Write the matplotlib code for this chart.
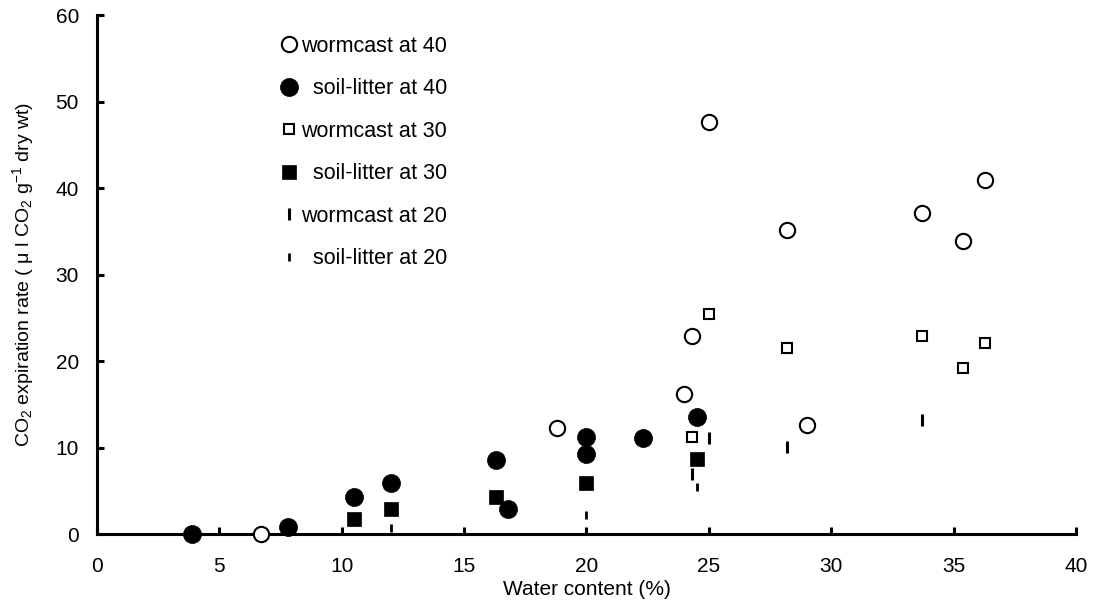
import matplotlib
matplotlib.use("Agg")
import matplotlib.pyplot as plt

plt.rcParams['font.family'] = ['Liberation Sans', 'DejaVu Sans']
plt.rcParams['mathtext.fontset'] = 'custom'
plt.rcParams['mathtext.rm'] = 'Liberation Sans'
plt.rcParams['mathtext.it'] = 'Liberation Sans'
plt.rcParams['mathtext.default'] = 'regular'

# ---- data ----
wc40_x = [6.7, 18.8, 24.0, 24.3, 25.0, 28.2, 29.0, 33.7, 35.4, 36.3]
wc40_y = [0.0, 12.3, 16.2, 23.0, 47.7, 35.2, 12.6, 37.2, 33.9, 41.0]

sl40_x = [3.9, 7.8, 10.5, 12.0, 16.3, 16.8, 20.0, 20.0, 22.3, 24.5]
sl40_y = [0.0, 0.9, 4.3, 6.0, 8.6, 3.0, 11.3, 9.3, 11.1, 13.6]

wc30_x = [24.3, 25.0, 28.2, 33.7, 35.4, 36.3]
wc30_y = [11.3, 25.5, 21.6, 22.9, 19.2, 22.1]

sl30_x = [10.5, 12.0, 16.3, 20.0, 24.5]
sl30_y = [1.8, 3.0, 4.3, 5.9, 8.7]

wc20_x = [24.3, 25.0, 28.2, 33.7]
wc20_y = [7.0, 11.2, 10.1, 13.2]

sl20_x = [12.0, 20.0, 24.5]
sl20_y = [0.8, 2.2, 5.5]

labels = ["wormcast at 40", "  soil-litter at 40", "wormcast at 30",
          "  soil-litter at 30", "wormcast at 20", "  soil-litter at 20"]

x_ticks = [0, 5, 10, 15, 20, 25, 30, 35, 40]
y_ticks = [0, 10, 20, 30, 40, 50, 60]

fig = plt.figure(figsize=(10.94, 6.10), dpi=100)
ax = fig.add_axes([0.0887, 0.1238, 0.8948, 0.8508])

ax.plot(wc40_x, wc40_y, 'o', ms=11, mfc='white', mec='black', mew=1.5,
        ls='none', label=labels[0], clip_on=False, zorder=3)
ax.plot(sl40_x, sl40_y, 'o', ms=13, mfc='black', mec='black', mew=0.5,
        ls='none', label=labels[1], clip_on=False, zorder=3)
ax.plot(wc30_x, wc30_y, 's', ms=7.6, mfc='white', mec='black', mew=1.5,
        ls='none', label=labels[2], clip_on=False, zorder=3)
ax.plot(sl30_x, sl30_y, 's', ms=9.5, mfc='black', mec='black', mew=0.5,
        ls='none', label=labels[3], clip_on=False, zorder=3)
ax.plot(wc20_x, wc20_y, '|', ms=8.6, mec='black', mew=2.2,
        ls='none', label=labels[4], clip_on=False, zorder=3)
ax.plot(sl20_x, sl20_y, '|', ms=6, mec='black', mew=2.0,
        ls='none', label=labels[5], clip_on=False, zorder=3)

ax.set_xlim(0, 40)
ax.set_ylim(0, 60)
ax.set_xticks(x_ticks)
ax.set_yticks(y_ticks)
for s in ['top', 'right']:
    ax.spines[s].set_visible(False)
for s in ['left', 'bottom']:
    ax.spines[s].set_linewidth(2.2)
ax.tick_params(axis='both', direction='in', length=5, width=2.2,
               labelsize=15)
ax.tick_params(axis='x', pad=16)
ax.tick_params(axis='y', pad=13)

ax.set_xlabel('Water content (%)', fontsize=15, labelpad=3)
ax.set_ylabel(r'CO$_2$ expiration rate ( μ l CO$_2$ g$^{-1}$ dry wt)',
              fontsize=14, labelpad=14)

leg = ax.legend(loc='upper left', bbox_to_anchor=(0.176, 0.982),
                frameon=False, fontsize=15.5, handlelength=0.8,
                handletextpad=0.15, labelspacing=1.0, borderpad=0,
                markerscale=1.0)

fig.savefig('out.png', dpi=100)
